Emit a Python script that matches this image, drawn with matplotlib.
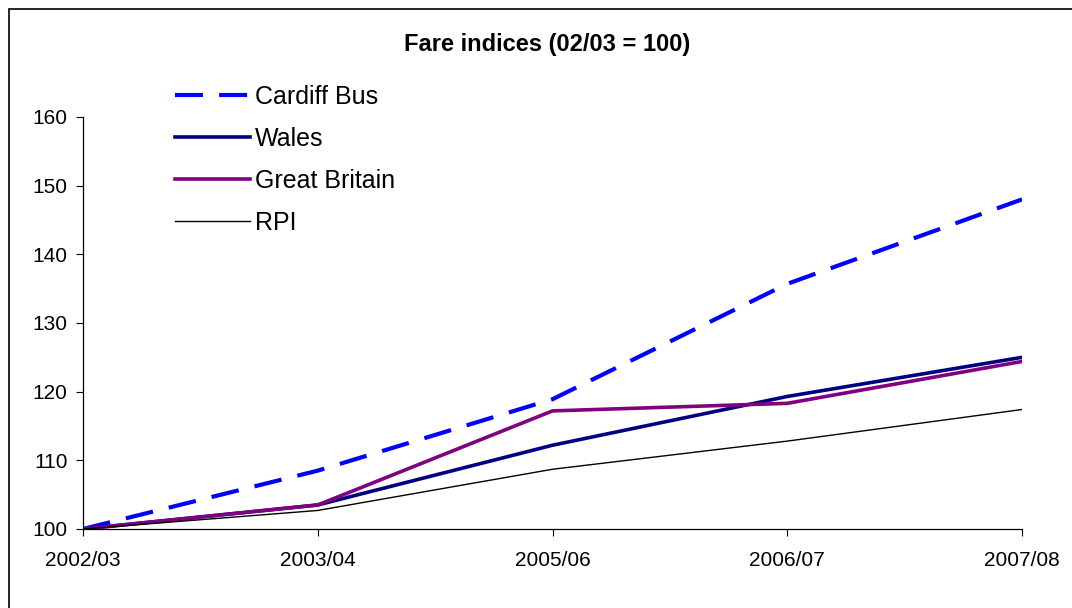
import numpy as np
import matplotlib
matplotlib.use('Agg')
import matplotlib.pyplot as plt
from matplotlib.patches import Rectangle

plt.rcParams['font.family'] = ['Liberation Sans', 'DejaVu Sans']

# Fare indices, 2002/03 = 100
years = ['2002/03', '2003/04', '2005/06', '2006/07', '2007/08']
cardiff_bus = [100.0, 108.5, 118.9, 135.7, 148.0]
wales = [100.0, 103.5, 112.2, 119.3, 125.0]
great_britain = [100.0, 103.5, 117.2, 118.3, 124.4]
rpi = [100.0, 102.7, 108.7, 112.8, 117.4]

fig = plt.figure(figsize=(10.72, 6.08), dpi=100)
ax = fig.add_axes([83 / 1072, 79 / 608, 939 / 1072, 412 / 608])

x = np.arange(len(years))
ax.plot(x, cardiff_bus, color='#0000FF', lw=3.0, dashes=(6.7, 3.9),
        label='Cardiff Bus', solid_capstyle='butt', dash_capstyle='butt')
ax.plot(x, wales, color='#000080', lw=2.6, label='Wales')
ax.plot(x, great_britain, color='#800080', lw=2.6, label='Great Britain')
ax.plot(x, rpi, color='black', lw=1.0, label='RPI')

ax.set_xlim(0, len(years) - 1)
ax.set_ylim(100, 160)
ax.set_xticks(x, labels=years)
ax.set_yticks(np.arange(100, 161, 10))
ax.tick_params(axis='both', labelsize=15, direction='out', length=5,
               width=0.8, color='black')
ax.tick_params(axis='x', pad=11)
ax.tick_params(axis='y', pad=6)
for side in ['top', 'right']:
    ax.spines[side].set_visible(False)
for side in ['left', 'bottom']:
    ax.spines[side].set_linewidth(0.9)

fig.text(547 / 1072, 1 - 45 / 608, 'Fare indices (02/03 = 100)',
         ha='center', va='center', fontsize=17, fontweight='bold')

ax.legend(loc='upper left', bbox_to_anchor=(175 / 1072, 1 - 85 / 608),
          bbox_transform=fig.transFigure, frameon=False, fontsize=18,
          handlelength=3.0, handletextpad=0.2, labelspacing=0.72,
          borderaxespad=0, borderpad=0)

# outer chart border
fig.patches.append(Rectangle((9 / 1072, -0.05), 1.1, 1 - 9 / 608 + 0.05,
                             transform=fig.transFigure, fill=False,
                             edgecolor='black', lw=1.2))

fig.savefig('out.png', dpi=100)
